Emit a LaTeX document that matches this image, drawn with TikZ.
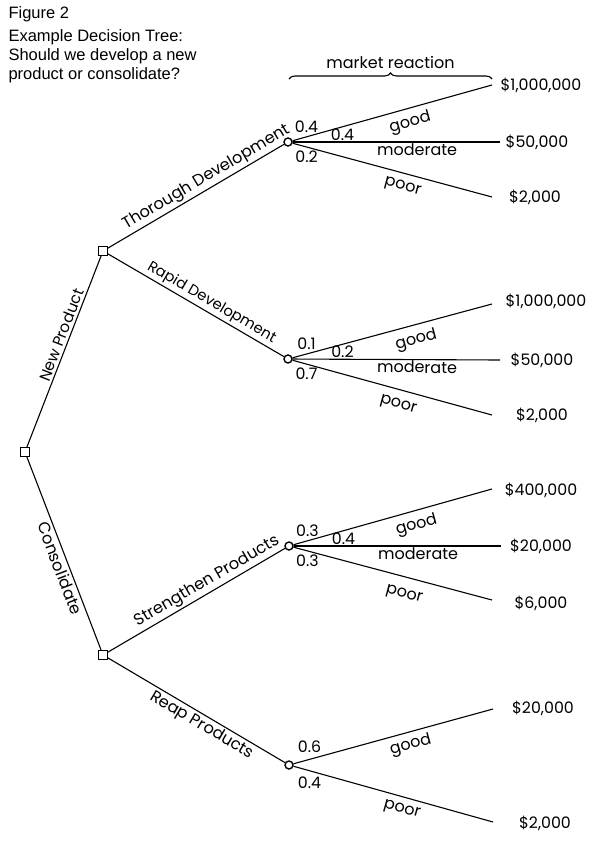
\documentclass[tikz,border=0pt]{standalone}
\usepackage{fontspec}
\setmainfont{Poppins}
\newfontfamily\arialfont{Liberation Sans}
\usetikzlibrary{decorations.pathreplacing}

\tikzset{
    decision/.style={draw,fill=white,rectangle,minimum size=9pt,inner sep=0pt,line width=0.9pt},
    chance/.style={draw,fill=white,circle,minimum size=8pt,inner sep=0pt,line width=1.4pt},
    payoff/.style={inner sep=0pt,font=\fontsize{15.8}{18}\selectfont},
    prob/.style={inner sep=1pt,font=\fontsize{15.8}{18}\selectfont},
    react/.style={inner sep=1pt,sloped,font=\fontsize{16}{18}\selectfont},
    choice/.style={inner sep=2pt,sloped,font=\fontsize{16.2}{18}\selectfont},
}

\begin{document}
\begin{tikzpicture}[x=1pt,y=-1pt,line width=1.1pt]
    % \draw[help lines] grid(594,846);
    \useasboundingbox (0,0) rectangle (594,846);

    \node[anchor=north west,inner sep=0pt,font=\arialfont\fontsize{16.5}{19}\selectfont] (figno) at (8,6) {Figure 2};
    \node[anchor=north west,inner sep=0pt,align=left,font=\arialfont\fontsize{16.5}{19}\selectfont] (caption) at (8,29) {Example Decision Tree:\\Should we develop a new\\product or consolidate?};

    \node[decision] (root) at (25,452) {};
    \node[decision] (newprod) at (103,251) {};
    \node[decision] (consol) at (103,655) {};
    \node[chance] (thorough) at (288,142) {};
    \node[chance] (rapid) at (288,359) {};
    \node[chance] (strengthen) at (289,546) {};
    \node[chance] (reap) at (289,765) {};

    \draw (root) -- node[choice,pos=.57,above,font=\fontsize{15.5}{18}\selectfont] {New Product} (newprod);
    \draw (root) -- node[choice,pos=.56,below] {Consolidate} (consol);
    \draw (newprod) -- node[choice,pos=.59,above] {Thorough Development} (thorough);
    \draw (newprod) -- node[choice,pos=.56,above,font=\fontsize{14.8}{18}\selectfont] {Rapid Development} (rapid);
    \draw (consol) -- node[choice,pos=.59,above] {Strengthen Products} (strengthen);
    \draw (consol) -- node[choice,pos=.56,below] {Reap Products} (reap);

    \draw[decorate,decoration={brace,amplitude=6pt}] (289,79) -- (492,79) node[midway,above=6pt,font=\fontsize{16}{18}\selectfont] (market) {market reaction};

    % thorough development
    \coordinate (tgood) at (492,85);
    \coordinate (tmod) at (500,142);
    \coordinate (tpoor) at (492,197);
    \node[payoff] (tv1) at (541,85) {\$1,000,000};
    \node[payoff] (tv2) at (537,142) {\$50,000};
    \node[payoff] (tv3) at (535,197) {\$2,000};
    \draw (thorough) -- node[prob,pos=.07,above=3pt] {0.4} node[react,pos=.57,below=5pt] {good} (tgood);
    \draw (thorough) -- node[prob,pos=.24,above] {0.4} node[react,pos=.6,below] {moderate} (tmod);
    \draw (thorough) -- node[prob,pos=.07,below=2pt] {0.2} node[react,pos=.57,below=6pt] {poor} (tpoor);

    % rapid development
    \coordinate (rgood) at (492,304);
    \coordinate (rmod) at (500,360);
    \coordinate (rpoor) at (492,415);
    \node[payoff] (rv1) at (546,301) {\$1,000,000};
    \node[payoff] (rv2) at (542,360) {\$50,000};
    \node[payoff] (rv3) at (542,415) {\$2,000};
    \draw (rapid) -- node[prob,pos=.07,above=3pt] {0.1} node[react,pos=.6,below=5.5pt] {good} (rgood);
    \draw (rapid) -- node[prob,pos=.24,above] {0.2} node[react,pos=.6,below] {moderate} (rmod);
    \draw (rapid) -- node[prob,pos=.07,below=2pt] {0.7} node[react,pos=.55,below=7.5pt] {poor} (rpoor);

    % strengthen products
    \coordinate (sgood) at (492,489);
    \coordinate (smod) at (501,546);
    \coordinate (spoor) at (492,600);
    \node[payoff] (sv1) at (541,490) {\$400,000};
    \node[payoff] (sv2) at (541,546) {\$20,000};
    \node[payoff] (sv3) at (541,603) {\$6,000};
    \draw (strengthen) -- node[prob,pos=.07,above=3pt] {0.3} node[react,pos=.6,below=5pt] {good} (sgood);
    \draw (strengthen) -- node[prob,pos=.24,above] {0.4} node[react,pos=.6,below] {moderate} (smod);
    \draw (strengthen) -- node[prob,pos=.07,below=2pt] {0.3} node[react,pos=.58,below=10pt] {poor} (spoor);

    % reap products
    \coordinate (pgood) at (493,709);
    \coordinate (ppoor) at (493,822);
    \node[payoff] (pv1) at (543,708) {\$20,000};
    \node[payoff] (pv2) at (545,823) {\$2,000};
    \draw (reap) -- node[prob,pos=.08,above=5pt] {0.6} node[react,pos=.57,below=3.5pt] {good} (pgood);
    \draw (reap) -- node[prob,pos=.08,below=5pt] {0.4} node[react,pos=.56,below=5pt] {poor} (ppoor);
\end{tikzpicture}
\end{document}
